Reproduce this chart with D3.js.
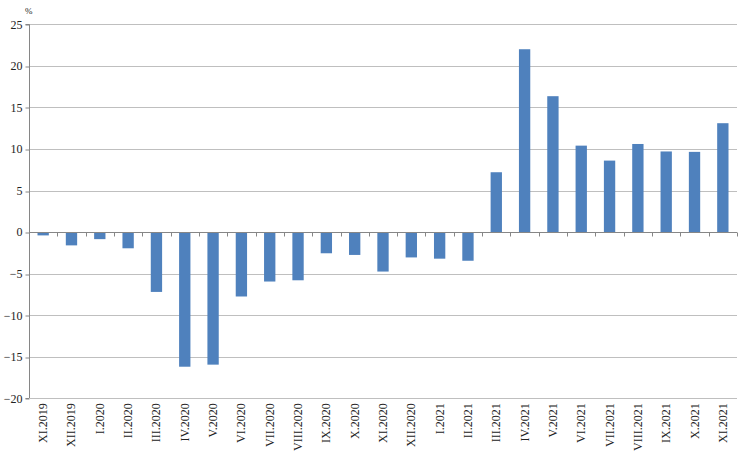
<!DOCTYPE html>
<html><head><meta charset="utf-8">
<script src="https://cdn.jsdelivr.net/npm/d3@7"></script>
<style>body{margin:0;background:#fff}svg{display:block}</style>
</head><body>
<svg id="c" width="740" height="469"></svg>
<script>
const categories = ["XI.2019","XII.2019","I.2020","II.2020","III.2020","IV.2020","V.2020","VI.2020","VII.2020","VIII.2020","IX.2020","X.2020","XI.2020","XII.2020","I.2021","II.2021","III.2021","IV.2021","V.2021","VI.2021","VII.2021","VIII.2021","IX.2021","X.2021","XI.2021"];
const values = [-0.4,-1.6,-0.85,-1.95,-7.2,-16.2,-15.95,-7.75,-5.95,-5.8,-2.55,-2.75,-4.75,-3.05,-3.2,-3.45,7.2,22.0,16.35,10.4,8.6,10.6,9.7,9.65,13.1];
const yTicks = [-20,-15,-10,-5,0,5,10,15,20,25];
const unitLabel = "%";

const svg = d3.select("#c");
const m = {left:29, right:737, top:24.3, bottom:398.3};
const x = d3.scaleBand().domain(categories).range([m.left, m.right]).paddingInner(0.6).paddingOuter(0.3);
const xb = d3.scaleBand().domain(categories).range([m.left, m.right]);
const y = d3.scaleLinear().domain([-20,25]).range([m.bottom, m.top]);
const font = "'Liberation Serif','Times New Roman',serif";

// gridlines
svg.append("g").selectAll("line").data(yTicks).join("line")
  .attr("x1", m.left).attr("x2", m.right)
  .attr("y1", d=>Math.round(y(d))+0.5).attr("y2", d=>Math.round(y(d))+0.5)
  .attr("stroke", "#bfbfbf").attr("stroke-width", 1);

// y axis
const ya = svg.append("g").attr("transform", `translate(${m.left+0.5},0)`)
  .call(d3.axisLeft(y).tickValues(yTicks).tickSize(4).tickPadding(3).tickFormat(d3.format("d")));
ya.select(".domain").attr("stroke", "#868686").attr("d", `M-4,${Math.round(y(25))+0.5}H0V${Math.round(y(-20))+0.5}H-4`);
ya.selectAll(".tick line").attr("stroke", "#868686").attr("transform", d=>`translate(0,${Math.round(y(d))+0.5-y(d)})`);
ya.selectAll("text").attr("font-family", font).attr("font-size", 12).attr("fill", "#222").attr("dy","0.32em");

// bars
svg.append("g").selectAll("rect").data(values).join("rect")
  .attr("x", (d,i)=>x(categories[i]))
  .attr("width", x.bandwidth())
  .attr("y", d=>y(Math.max(0,d)))
  .attr("height", d=>Math.abs(y(d)-y(0)))
  .attr("fill", "#4f81bd");

// x axis at zero
const y0 = Math.round(y(0))+0.5;
svg.append("line").attr("x1", m.left).attr("x2", m.right).attr("y1", y0).attr("y2", y0)
  .attr("stroke", "#868686");
svg.append("g").selectAll("line").data(categories.concat(["_end"])).join("line")
  .attr("x1", (d,i)=>Math.round(m.left + i*xb.step())+0.5)
  .attr("x2", (d,i)=>Math.round(m.left + i*xb.step())+0.5)
  .attr("y1", y0).attr("y2", y0+4).attr("stroke", "#868686");

// bottom line
const yb = Math.round(y(-20))+0.5;
svg.append("line").attr("x1", m.left).attr("x2", m.right).attr("y1", yb).attr("y2", yb).attr("stroke","#bfbfbf");

// x labels
svg.append("g").selectAll("text").data(categories).join("text")
  .attr("transform", d=>`translate(${xb(d)+xb.bandwidth()/2+4},${m.bottom+5}) rotate(-90)`)
  .attr("text-anchor","end")
  .attr("font-family", font).attr("font-size", 12).attr("fill","#222")
  .text(d=>d);

svg.append("text").attr("x", 25).attr("y", 14).attr("font-family", font).attr("font-size", 9)
  .attr("fill","#222").text(unitLabel);
</script>
</body></html>
